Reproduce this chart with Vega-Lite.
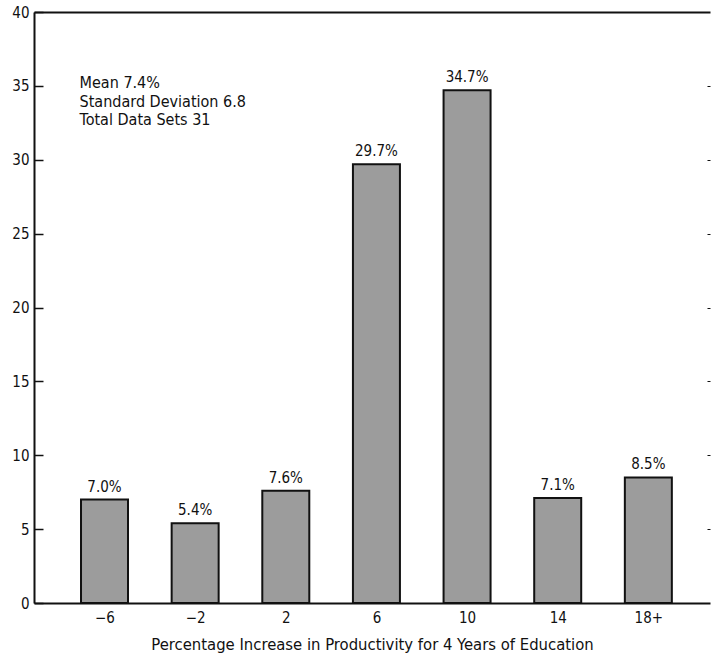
{
  "$schema": "https://vega.github.io/schema/vega-lite/v6.json",
  "width": 676,
  "height": 591,
  "autosize": {"type": "none"},
  "padding": {"left": 34, "top": 12, "right": 1, "bottom": 61},
  "background": "white",
  "config": {
    "view": {"stroke": null},
    "font": "DejaVu Sans Condensed, Liberation Sans Narrow, Roboto, sans-serif",
    "axis": {"labelColor": "#111", "titleColor": "#111", "domainColor": "#111", "tickColor": "#111", "grid": false}
  },
  "layer": [
    {
      "data": {"values": [
        {"x": -6, "pct": 7.0, "lab": "7.0%"},
        {"x": -2, "pct": 5.4, "lab": "5.4%"},
        {"x": 2, "pct": 7.6, "lab": "7.6%"},
        {"x": 6, "pct": 29.7, "lab": "29.7%"},
        {"x": 10, "pct": 34.7, "lab": "34.7%"},
        {"x": 14, "pct": 7.1, "lab": "7.1%"},
        {"x": 18, "pct": 8.5, "lab": "8.5%"}
      ]},
      "layer": [
        {
          "mark": {"type": "bar", "size": 47, "fill": "#9c9c9c", "stroke": "#111", "strokeWidth": 2},
          "encoding": {
            "x": {"field": "x", "type": "quantitative",
              "scale": {"domain": [-8.891, 20.5], "nice": false, "zero": false},
              "axis": {"orient": "bottom", "values": [-6, -2, 2, 6, 10, 14, 18],
                "labelExpr": "datum.value == 18 ? '18+' : (datum.value < 0 ? '−' + abs(datum.value) : '' + datum.value)",
                "ticks": false, "domainWidth": 2, "labelFontSize": 15, "labelPadding": 7,
                "title": "Percentage Increase in Productivity for 4 Years of Education",
                "titleFontSize": 16.5, "titleFontWeight": "normal", "titlePadding": 11}},
            "y": {"field": "pct", "type": "quantitative",
              "scale": {"domain": [0, 40], "nice": false},
              "axis": {"orient": "left", "values": [0, 5, 10, 15, 20, 25, 30, 35, 40], "tickSize": -9, "tickWidth": 1.5,
                "domainWidth": 2, "labelFontSize": 15, "labelPadding": 14, "title": null}}
          }
        },
        {
          "mark": {"type": "text", "baseline": "bottom", "dy": -5, "fontSize": 15, "color": "#111"},
          "encoding": {
            "x": {"field": "x", "type": "quantitative", "axis": null},
            "y": {"field": "pct", "type": "quantitative", "axis": null},
            "text": {"field": "lab"}
          }
        },
        {
          "mark": {"type": "point", "opacity": 0},
          "encoding": {
            "x": {"field": "x", "type": "quantitative",
              "axis": {"orient": "top", "labels": false, "ticks": false, "domainWidth": 2, "title": null}},
            "y": {"field": "pct", "type": "quantitative",
              "axis": {"orient": "right", "values": [5, 10, 15, 20, 25, 30, 35], "labels": false, "domain": false, "tickSize": -3, "title": null}}
          }
        }
      ]
    },
    {
      "data": {"values": [
        {"ax": -7.1, "ay": 35.19, "t": "Mean 7.4%"},
        {"ax": -7.1, "ay": 33.91, "t": "Standard Deviation 6.8"},
        {"ax": -7.1, "ay": 32.66, "t": "Total Data Sets 31"}
      ]},
      "mark": {"type": "text", "align": "left", "baseline": "middle", "fontSize": 16, "color": "#111"},
      "encoding": {
        "x": {"field": "ax", "type": "quantitative", "axis": null},
        "y": {"field": "ay", "type": "quantitative", "axis": null},
        "text": {"field": "t"}
      }
    }
  ],
  "resolve": {"axis": {"x": "independent", "y": "independent"}}
}
